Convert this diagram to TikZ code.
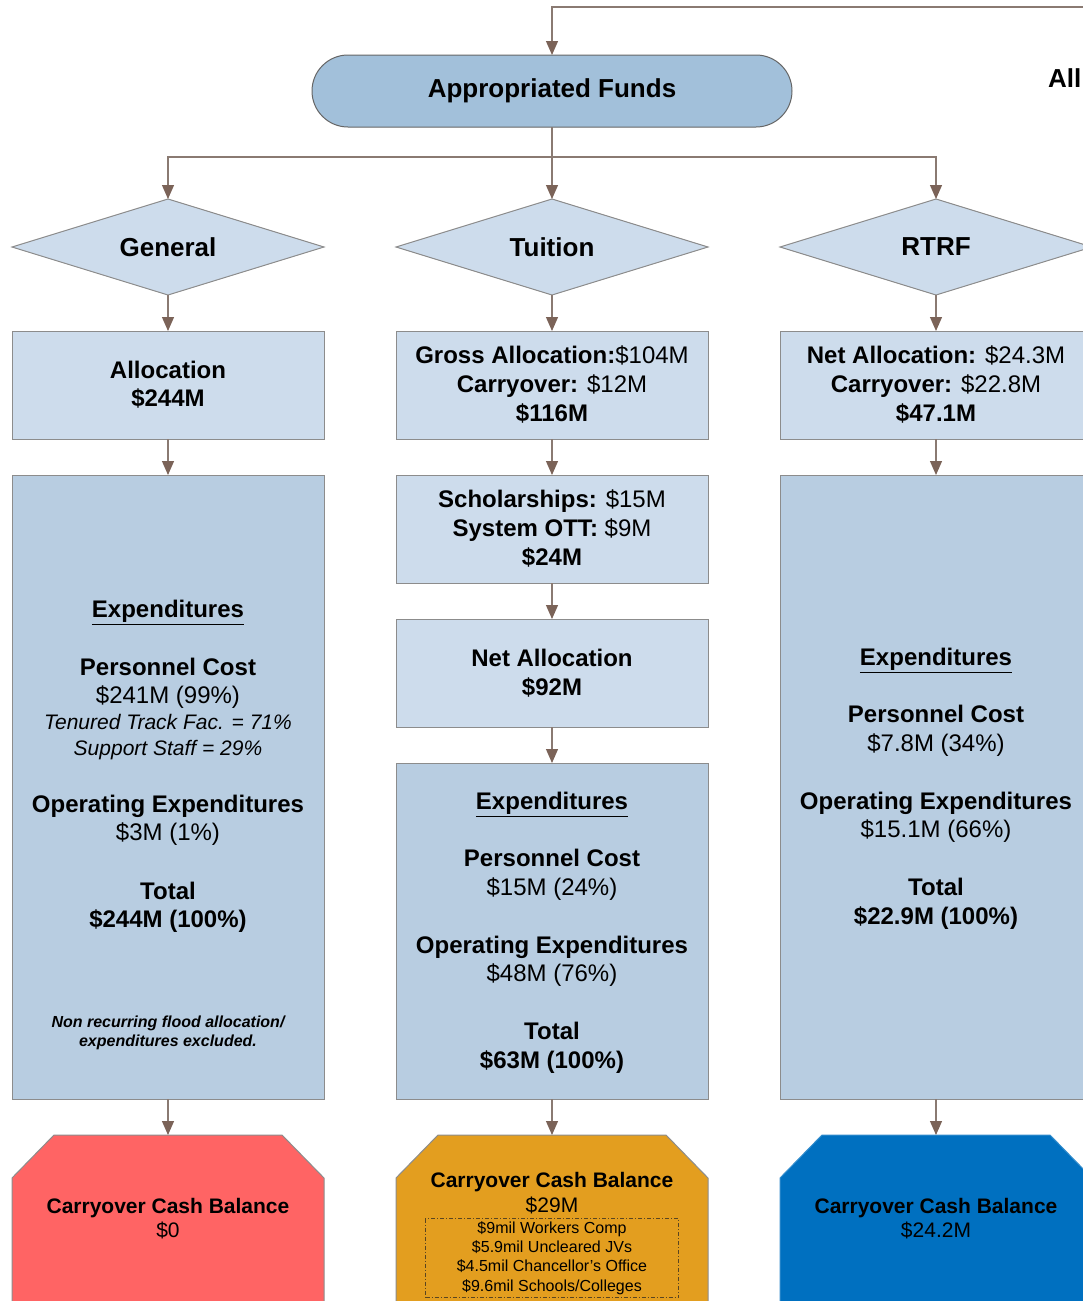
\documentclass[tikz,border=0pt]{standalone}
\usepackage{fontspec}
\setmainfont{Liberation Sans}
\usetikzlibrary{shapes.geometric,arrows.meta}
\definecolor{appc}{HTML}{A2C0DA}
\definecolor{lightc}{HTML}{CDDCEC}
\definecolor{expc}{HTML}{B8CDE1}
\definecolor{bordc}{HTML}{8C8C8C}
\definecolor{arrc}{HTML}{7B6358}
\definecolor{linec}{HTML}{8A7A72}
\definecolor{redc}{HTML}{FF6464}
\definecolor{orc}{HTML}{E39E1F}
\definecolor{bluec}{HTML}{0070C0}
\definecolor{dashc}{HTML}{5A4520}
\newcommand\fsz[1]{\fontsize{#1}{#1}\selectfont}
\begin{document}
\begin{tikzpicture}[x=1pt,y=-1pt,
  shapebox/.style={draw=bordc, line width=1pt, fill=lightc, minimum width=312pt, inner sep=0pt, outer sep=0pt, anchor=north},
  expbox/.style={shapebox, fill=expc},
  dia/.style={shape=diamond, draw=bordc, line width=1pt, fill=lightc, minimum width=312pt, minimum height=96pt, inner sep=0pt, outer sep=0pt},
  dlab/.style={inner sep=0pt, font=\fsz{26}\bfseries},
  conn/.style={draw=linec, line width=1.2pt},
  arr/.style={conn, -{Triangle[length=14pt,width=12pt,color=arrc]}},
  tb/.style={anchor=base, inner sep=0pt, font=\fsz{24}\bfseries},
  tr/.style={anchor=base, inner sep=0pt, font=\fsz{24}},
  ti/.style={anchor=base, inner sep=0pt, font=\fsz{21}\itshape},
  tn/.style={anchor=base, inner sep=0pt, font=\fsz{16}\bfseries\itshape},
  tcb/.style={anchor=base, inner sep=0pt, font=\fsz{21}\bfseries},
  tcr/.style={anchor=base, inner sep=0pt, font=\fsz{21}},
  ts/.style={anchor=base, inner sep=0pt, font=\fsz{16}},
  cashshape/.style={draw=bordc, line width=1pt}
]
\useasboundingbox (0,0) rectangle (1083,1301);
\clip (0,0) rectangle (1083,1301);
\fill[white] (0,0) rectangle (1083,1301);

% top
\node[draw=black!60, line width=1pt, fill=appc, rounded corners=36pt, minimum width=480pt, minimum height=72pt, inner sep=0pt, outer sep=0pt, font=\fsz{26}\bfseries] (app) at (552,91) {Appropriated Funds};
\node[anchor=base west, inner sep=0pt, font=\fsz{26}\bfseries] (allt) at (1048,87) {All};
\coordinate (topr) at (1095,7);
\draw[arr] (topr) -| (app.north);

% diamonds
\node[dia] (gen) at (168,247) {};
\node[dia] (tui) at (552,247) {};
\node[dia] (rtrf) at (936,247) {};
\node[dlab] (genl) at (168,247) {General};
\node[dlab] (tuil) at (552,247) {Tuition};
\node[dlab] (rtrfl) at (936,247) {RTRF};

\coordinate (split) at (552,157);
\draw[conn] (app.south) -- (split);
\draw[arr] (split) -| (gen.north);
\draw[arr] (split) -| (rtrf.north);
\draw[arr] (split) -- (tui.north);

% row 1 boxes
\node[shapebox, minimum height=108pt] (galloc) at (168,331) {};
\node[shapebox, minimum height=108pt] (talloc) at (552,331) {};
\node[shapebox, minimum height=108pt] (ralloc) at (936,331) {};
\draw[arr] (gen.south) -- (galloc.north);
\draw[arr] (tui.south) -- (talloc.north);
\draw[arr] (rtrf.south) -- (ralloc.north);

\node[tb] (ga1) at (168,378.5) {Allocation};
\node[tb] (ga2) at (168,406.5) {\$244M};
\node[tr] (ta1) at (552,363.5) {{\bfseries Gross Allocation:}\$104M};
\node[tr] (ta2) at (552,392.5) {{\bfseries Carryover:} \$12M};
\node[tb] (ta3) at (552,421.5) {\$116M};
\node[tr] (ra1) at (936,363.5) {{\bfseries Net Allocation:} \$24.3M};
\node[tr] (ra2) at (936,392.5) {{\bfseries Carryover:} \$22.8M};
\node[tb] (ra3) at (936,421.5) {\$47.1M};

% General expenditures
\node[expbox, minimum height=624pt] (gexp) at (168,475) {};
\draw[arr] (galloc.south) -- (gexp.north);
\node[tb] (ge1) at (168,617.5) {\underline{Expenditures}};
\node[tb] (ge2) at (168,675.5) {Personnel Cost};
\node[tr] (ge3) at (168,703.5) {\$241M (99\%)};
\node[ti] (ge4) at (168,729.5) {Tenured Track Fac. = 71\%};
\node[ti] (ge5) at (168,755.5) {Support Staff = 29\%};
\node[tb] (ge6) at (168,812.5) {Operating Expenditures};
\node[tr] (ge7) at (168,840.5) {\$3M (1\%)};
\node[tb] (ge8) at (168,899.5) {Total};
\node[tb] (ge9) at (168,927.5) {\$244M (100\%)};
\node[tn] (ge10) at (168,1027.7) {Non recurring flood allocation/};
\node[tn] (ge11) at (168,1046.7) {expenditures excluded.};

% Tuition chain
\node[shapebox, minimum height=108pt] (tsch) at (552,475) {};
\draw[arr] (talloc.south) -- (tsch.north);
\node[tr] (ts1) at (552,507.5) {{\bfseries Scholarships:} \$15M};
\node[tr] (ts2) at (552,536.5) {{\bfseries System OTT:} \$9M};
\node[tb] (ts3) at (552,565.5) {\$24M};
\node[shapebox, minimum height=108pt] (tnet) at (552,619) {};
\draw[arr] (tsch.south) -- (tnet.north);
\node[tb] (tn1) at (552,666.5) {Net Allocation};
\node[tb] (tn2) at (552,695.5) {\$92M};
\node[expbox, minimum height=336pt] (texp) at (552,763) {};
\draw[arr] (tnet.south) -- (texp.north);
\node[tb] (te1) at (552,809.5) {\underline{Expenditures}};
\node[tb] (te2) at (552,866.5) {Personnel Cost};
\node[tr] (te3) at (552,895.5) {\$15M (24\%)};
\node[tb] (te4) at (552,953.5) {Operating Expenditures};
\node[tr] (te5) at (552,981.5) {\$48M (76\%)};
\node[tb] (te6) at (552,1039.5) {Total};
\node[tb] (te7) at (552,1068.5) {\$63M (100\%)};

% RTRF expenditures
\node[expbox, minimum height=624pt] (rexp) at (936,475) {};
\draw[arr] (ralloc.south) -- (rexp.north);
\node[tb] (re1) at (936,665.5) {\underline{Expenditures}};
\node[tb] (re2) at (936,722.5) {Personnel Cost};
\node[tr] (re3) at (936,751.5) {\$7.8M (34\%)};
\node[tb] (re4) at (936,809.5) {Operating Expenditures};
\node[tr] (re5) at (936,837.5) {\$15.1M (66\%)};
\node[tb] (re6) at (936,895.5) {Total};
\node[tb] (re7) at (936,924.5) {\$22.9M (100\%)};

% bottom cash balance shapes
\fill[redc] (12,1320) -- (12,1178) -- (54,1135) -- (282,1135) -- (324,1178) -- (324,1320) -- cycle;
\draw[cashshape] (12,1320) -- (12,1178) -- (54,1135) -- (282,1135) -- (324,1178) -- (324,1320);
\fill[orc] (396,1320) -- (396,1178) -- (438,1135) -- (666,1135) -- (708,1178) -- (708,1320) -- cycle;
\draw[cashshape] (396,1320) -- (396,1178) -- (438,1135) -- (666,1135) -- (708,1178) -- (708,1320);
\fill[bluec] (780,1320) -- (780,1178) -- (822,1135) -- (1050,1135) -- (1092,1178) -- (1092,1320) -- cycle;
\draw[cashshape, draw=bluec!80!white] (780,1320) -- (780,1178) -- (822,1135) -- (1050,1135) -- (1092,1178) -- (1092,1320);

\coordinate (gcash) at (168,1135);
\coordinate (tcash) at (552,1135);
\coordinate (rcash) at (936,1135);
\draw[arr] (gexp.south) -- (gcash);
\draw[arr] (texp.south) -- (tcash);
\draw[arr] (rexp.south) -- (rcash);

\node[tcb] (gc1) at (168,1213.5) {Carryover Cash Balance};
\node[tcr] (gc2) at (168,1237.5) {\$0};
\node[tcb] (tc1) at (552,1187.5) {Carryover Cash Balance};
\node[tcr] (tc2) at (552,1212.5) {\$29M};
\node[draw=dashc, line width=1pt, dash pattern=on 4pt off 2pt on 1pt off 2pt, minimum width=253pt, minimum height=79pt, inner sep=0pt, anchor=north west] (tdet) at (425,1218) {};
\node[ts] (td1) at (552,1233.7) {\$9mil Workers Comp};
\node[ts] (td2) at (552,1252.7) {\$5.9mil Uncleared JVs};
\node[ts] (td3) at (552,1271.7) {\$4.5mil Chancellor’s Office};
\node[ts] (td4) at (552,1291.7) {\$9.6mil Schools/Colleges};
\node[tcb] (rc1) at (936,1213.5) {Carryover Cash Balance};
\node[tcr] (rc2) at (936,1237.5) {\$24.2M};
\end{tikzpicture}
\end{document}
